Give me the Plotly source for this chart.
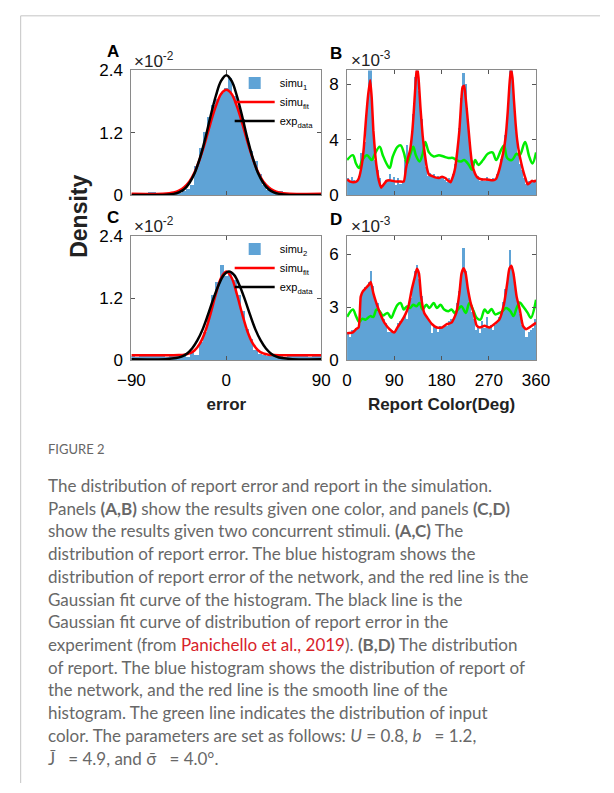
import plotly.graph_objects as go

W, H = 614, 793

# ---------------- data (display units: A,C in 1e-2; B,D in 1e-3) ----------------
err_bins = [-88, -84, -80, -76, -72, -68, -64, -60, -56, -52, -48, -44, -40, -36, -32, -28, -24, -20, -16, -12,
            -8, -4, 0, 4, 8, 12, 16, 20, 24, 28, 32, 36, 40, 44, 48, 52, 56, 60, 64, 68, 72, 76, 80, 84, 88]
histA = [0.0, 0.0, 0.01, 0.0, 0.06, 0.05, 0.0, 0.01, 0.0, 0.02, 0.02, 0.04, 0.08, 0.12, 0.2, 0.55, 0.9, 1.2, 1.5, 1.72,
         1.85, 1.95, 2.05, 2.25, 1.9, 1.7, 1.45, 1.1, 0.85, 0.65, 0.4, 0.2, 0.1, 0.06, 0.03, 0.07, 0.02, 0.01, 0.0, 0.0,
         0.0, 0.0, 0.01, 0.0, 0.0]
histC = [0.08, 0.06, 0.08, 0.07, 0.1, 0.08, 0.12, 0.07, 0.06, 0.1, 0.08, 0.07, 0.1, 0.05, 0.15, 0.1, 0.35, 0.55, 0.9, 1.25,
         1.5, 1.83, 1.62, 1.7, 1.55, 1.25, 0.95, 0.6, 0.4, 0.2, 0.12, 0.1, 0.07, 0.09, 0.06, 0.08, 0.05, 0.08, 0.07, 0.1,
         0.07, 0.08, 0.05, 0.12, 0.08]

gaussA_x = [-90, -60, -50, -45, -40, -35, -30, -25, -20, -15, -10, -5, 0, 5, 10, 15, 20, 25, 30, 35, 40, 45, 50, 60, 90]
A_exp = [0.01, 0.01, 0.03, 0.06, 0.12, 0.24, 0.43, 0.72, 1.09, 1.52, 1.91, 2.20, 2.31, 2.20, 1.91, 1.52, 1.09, 0.72,
         0.43, 0.24, 0.12, 0.06, 0.03, 0.01, 0.01]
A_fit = [0.03, 0.034, 0.056, 0.09, 0.16, 0.27, 0.45, 0.71, 1.03, 1.39, 1.71, 1.95, 2.03, 1.95, 1.71, 1.39, 1.03, 0.71,
         0.45, 0.27, 0.16, 0.09, 0.056, 0.034, 0.03]

C_exp_x = [-90, -57.5, -47.5, -42.5, -37.5, -32.5, -27.5, -22.5, -17.5, -12.5, -7.5, -2.5, 2.5, 7.5, 12.5, 17.5, 22.5,
           27.5, 32.5, 37.5, 42.5, 47.5, 52.5, 62.5, 90]
C_exp = [0.02, 0.024, 0.044, 0.073, 0.13, 0.23, 0.385, 0.60, 0.88, 1.18, 1.45, 1.65, 1.72, 1.65, 1.45, 1.18, 0.88, 0.60,
         0.385, 0.23, 0.13, 0.073, 0.044, 0.024, 0.02]
C_fit_x = [-90, -50, -45, -40, -35, -30, -25, -20, -15, -10, -5, 0, 5, 10, 15, 20, 25, 30, 35, 40, 45, 50, 90]
C_fit = [0.10, 0.10, 0.103, 0.11, 0.134, 0.196, 0.33, 0.56, 0.90, 1.28, 1.60, 1.72, 1.60, 1.28, 0.90, 0.56, 0.33, 0.196,
         0.134, 0.11, 0.103, 0.10, 0.10]

col_bins = [2, 6, 10, 14, 18, 22, 26, 30, 34, 38, 42, 46, 50, 54, 58, 62, 66, 70, 74, 78, 82, 86, 90, 94, 98, 102, 106,
            110, 114, 118, 122, 126, 130, 134, 138, 142, 146, 150, 154, 158, 162, 166, 170, 174, 178, 182, 186, 190,
            194, 198, 202, 206, 210, 214, 218, 222, 226, 230, 234, 238, 242, 246, 250, 254, 258, 262, 266, 270, 274,
            278, 282, 286, 290, 294, 298, 302, 306, 310, 314, 318, 322, 326, 330, 334, 338, 342, 346, 350, 354, 358]
histB = [1.2, 0.9, 1.3, 1.1, 1.0, 1.4, 3.0, 2.6, 3.8, 6.5, 9.5, 9.3, 5.0, 2.5, 1.8, 1.2, 0.5, 0.8, 1.1, 1.0, 1.5, 1.0,
         1.3, 0.7, 1.2, 0.8, 1.0, 2.5, 3.6, 3.0, 3.8, 5.8, 8.5, 9.5, 7.5, 5.5, 3.2, 2.0, 1.4, 1.6, 1.3, 1.5, 1.2, 1.4,
         1.2, 1.3, 1.1, 0.9, 1.2, 1.0, 1.5, 2.2, 3.0, 4.8, 7.0, 8.8, 8.0, 5.5, 3.5, 2.5, 1.8, 1.3, 1.4, 1.0, 1.2, 1.0,
         1.3, 1.1, 1.0, 1.2, 1.1, 1.5, 1.9, 2.6, 3.0, 4.3, 6.5, 9.2, 9.5, 7.0, 4.5, 3.0, 2.2, 1.8, 1.2, 0.8, 1.0, 0.9,
         1.1, 1.1]
histD = [1.5, 1.3, 1.7, 1.7, 1.8, 1.9, 3.6, 3.9, 4.1, 4.1, 4.4, 5.0, 4.2, 3.5, 3.2, 2.6, 2.5, 2.3, 2.1, 1.6, 1.6, 1.7,
         1.6, 1.7, 2.1, 2.2, 2.3, 2.6, 2.3, 3.0, 3.5, 4.3, 5.0, 5.35, 4.6, 3.6, 2.7, 2.5, 2.3, 2.2, 1.5, 2.0, 1.8, 1.6,
         1.9, 1.8, 2.0, 1.9, 2.2, 2.3, 2.3, 2.6, 3.2, 3.9, 4.8, 6.3, 5.0, 4.0, 3.2, 2.7, 2.3, 1.7, 1.9, 1.5, 2.2, 1.8,
         2.4, 1.8, 2.0, 1.7, 2.0, 2.2, 2.4, 2.7, 3.3, 4.0, 4.8, 6.2, 5.3, 4.8, 3.7, 3.0, 2.6, 2.0, 1.8, 1.3, 1.6, 1.7,
         1.8, 2.3]

B_red_x = [0, 6, 12, 18, 22, 28, 32, 36, 40, 44, 47, 50, 54, 57, 61, 65, 70, 75, 80, 86, 93, 100, 108, 112, 116, 120,
           124, 127, 130, 133, 136, 140, 144, 148, 152, 156, 162, 168, 175, 181, 187, 193, 197, 202, 206, 210, 214,
           217, 220, 223, 226, 229, 232, 235, 238, 241, 246, 250, 258, 266, 274, 280, 284, 288, 291, 294, 298, 302,
           306, 309, 312, 315, 318, 321, 324, 328, 332, 336, 340, 344, 348, 352, 356, 360]
B_red = [1.15, 1.0, 0.95, 1.0, 1.2, 2.2, 3.5, 5.5, 7.2, 8.3, 7.0, 4.7, 2.8, 1.85, 1.0, 0.56, 0.8, 1.05, 1.1, 1.05, 1.0,
         1.0, 1.0, 1.9, 2.7, 3.25, 4.5, 6.0, 7.8, 9.3, 8.5, 6.2, 4.3, 3.0, 2.0, 1.5, 1.4, 1.3, 1.25, 1.35, 1.25, 1.05,
         0.95, 1.4, 2.0, 3.2, 4.7, 6.5, 7.8, 7.9, 7.0, 5.8, 4.5, 3.25, 2.3, 1.85, 1.4, 1.25, 1.15, 1.15, 1.1, 1.1, 1.2,
         1.6, 2.0, 2.5, 3.2, 4.2, 6.0, 7.8, 9.1, 8.5, 6.8, 5.2, 4.0, 3.0, 2.3, 1.7, 1.2, 0.8, 0.9, 1.05, 1.0, 1.1]
B_grn_x = [0, 11, 17, 23, 29, 38, 47, 53, 62, 68, 75, 81, 87, 96, 102, 108, 114, 120, 126, 131, 138, 144, 149, 156,
           165, 175, 184, 193, 202, 208, 217, 223, 232, 238, 244, 250, 259, 268, 277, 284, 293, 299, 305, 314, 323,
           329, 339, 347, 353, 360]
B_grn = [2.55, 2.9, 2.3, 1.97, 2.55, 2.9, 2.55, 3.0, 3.5, 2.9, 2.3, 1.97, 2.8, 3.5, 3.6, 3.1, 2.3, 2.9, 3.5, 2.9, 2.45,
         3.0, 3.85, 3.1, 2.8, 2.9, 2.8, 2.7, 2.7, 2.55, 2.45, 2.55, 2.2, 1.85, 2.55, 2.2, 2.55, 3.0, 3.1, 2.55, 3.25,
         3.6, 2.7, 2.55, 3.0, 2.9, 3.85, 2.8, 2.3, 3.1]

D_red_x = [0, 11, 17, 22, 26, 30, 35, 41, 45, 50, 55, 59, 65, 71, 81, 90, 96, 102, 111, 117, 123, 129, 133, 137, 141,
           147, 153, 162, 171, 181, 190, 199, 208, 214, 218, 222, 226, 230, 235, 241, 247, 253, 262, 271, 280, 290,
           299, 305, 309, 313, 317, 323, 329, 335, 341, 347, 360]
D_red = [1.53, 1.58, 1.76, 1.86, 3.6, 3.9, 4.06, 4.25, 4.43, 3.8, 3.3, 2.96, 2.5, 2.13, 1.76, 1.58, 1.86, 2.13, 2.6,
         3.05, 3.97, 4.7, 5.17, 4.9, 3.6, 2.68, 2.4, 2.04, 1.86, 1.86, 2.04, 2.13, 2.68, 3.8, 4.9, 5.2, 4.9, 4.06, 3.3,
         2.68, 1.95, 1.86, 1.95, 1.86, 2.04, 2.3, 3.2, 4.34, 5.17, 5.35, 4.9, 3.6, 2.87, 1.95, 1.76, 1.86, 2.13]
D_grn_x = [0, 11, 17, 23, 29, 35, 44, 50, 56, 62, 68, 77, 84, 90, 96, 102, 108, 114, 120, 126, 132, 138, 144, 151, 157,
           165, 171, 178, 185, 193, 199, 205, 211, 218, 226, 233, 241, 247, 254, 262, 268, 275, 282, 290, 296, 303,
           311, 317, 323, 329, 335, 344, 350, 360]
D_grn = [2.46, 2.87, 2.5, 2.17, 2.35, 2.3, 2.5, 2.46, 2.87, 2.78, 2.54, 2.68, 2.4, 2.78, 3.14, 3.24, 2.87, 3.05, 2.96,
         3.14, 3.05, 3.24, 2.87, 3.14, 2.96, 3.24, 2.96, 3.14, 2.87, 2.78, 2.87, 2.68, 2.87, 3.05, 2.68, 3.24, 2.78, 2.4,
         2.3, 2.87, 2.68, 2.9, 2.6, 2.68, 2.78, 2.96, 2.78, 2.5, 2.96, 3.27, 3.05, 2.68, 2.4, 3.42]

caption_lines = [
    "The distribution of report error and report in the simulation.",
    "Panels <b>(A,B)</b> show the results given one color, and panels <b>(C,D)</b>",
    "show the results given two concurrent stimuli. <b>(A,C)</b> The",
    "distribution of report error. The blue histogram shows the",
    "distribution of report error of the network, and the red line is the",
    "Gaussian fit curve of the histogram. The black line is the",
    "Gaussian fit curve of distribution of report error in the",
    "experiment (from <span style='color:#d8232a'>Panichello et al., 2019</span>). <b>(B,D)</b> The distribution",
    "of report. The blue histogram shows the distribution of report of",
    "the network, and the red line is the smooth line of the",
    "histogram. The green line indicates the distribution of input",
    "color. The parameters are set as follows: <i>U</i> = 0.8, <i>b</i>\u00a0\u00a0 = 1.2,",
    "J\u0304\u00a0\u00a0 = 4.9, and σ\u0304\u00a0\u00a0 = 4.0°.",
]

# ---------------- styling ----------------
BLUE = "rgb(95,163,214)"
RED = "#ff0000"
GREEN = "#00ee00"
AXF = "Liberation Sans, Arial, sans-serif"
CAPF = "Lato, Open Sans, sans-serif"


def px(x):
    return x / W


def py(y):
    return 1 - y / H


fig = go.Figure()

# Panel A
fig.add_trace(go.Bar(x=err_bins, y=histA, width=4, marker=dict(color=BLUE, line=dict(width=0)),
                     name="simu<sub>1</sub>", xaxis="x", yaxis="y", legend="legend"))
fig.add_trace(go.Scatter(x=gaussA_x, y=A_fit, mode="lines", line=dict(color=RED, width=2.5, shape="spline"),
                         name="simu<sub>fit</sub>", xaxis="x", yaxis="y", legend="legend"))
fig.add_trace(go.Scatter(x=gaussA_x, y=A_exp, mode="lines", line=dict(color="black", width=2.5, shape="spline"),
                         name="exp<sub>data</sub>", xaxis="x", yaxis="y", legend="legend"))
# Panel B
fig.add_trace(go.Bar(x=col_bins, y=histB, width=4, marker=dict(color=BLUE, line=dict(width=0)),
                     showlegend=False, xaxis="x2", yaxis="y2"))
fig.add_trace(go.Scatter(x=B_grn_x, y=B_grn, mode="lines", line=dict(color=GREEN, width=2.5, shape="spline", smoothing=1.0),
                         showlegend=False, xaxis="x2", yaxis="y2"))
fig.add_trace(go.Scatter(x=B_red_x, y=B_red, mode="lines", line=dict(color=RED, width=2.5, shape="spline", smoothing=0.5),
                         showlegend=False, xaxis="x2", yaxis="y2"))
# Panel C
fig.add_trace(go.Bar(x=err_bins, y=histC, width=4, marker=dict(color=BLUE, line=dict(width=0)),
                     name="simu<sub>2</sub>", xaxis="x3", yaxis="y3", legend="legend2"))
fig.add_trace(go.Scatter(x=C_fit_x, y=C_fit, mode="lines", line=dict(color=RED, width=2.5, shape="spline"),
                         name="simu<sub>fit</sub>", xaxis="x3", yaxis="y3", legend="legend2"))
fig.add_trace(go.Scatter(x=C_exp_x, y=C_exp, mode="lines", line=dict(color="black", width=2.5, shape="spline"),
                         name="exp<sub>data</sub>", xaxis="x3", yaxis="y3", legend="legend2"))
# Panel D
fig.add_trace(go.Bar(x=col_bins, y=histD, width=4, marker=dict(color=BLUE, line=dict(width=0)),
                     showlegend=False, xaxis="x4", yaxis="y4"))
fig.add_trace(go.Scatter(x=D_grn_x, y=D_grn, mode="lines", line=dict(color=GREEN, width=2.5, shape="spline", smoothing=1.0),
                         showlegend=False, xaxis="x4", yaxis="y4"))
fig.add_trace(go.Scatter(x=D_red_x, y=D_red, mode="lines", line=dict(color=RED, width=2.5, shape="spline", smoothing=0.5),
                         showlegend=False, xaxis="x4", yaxis="y4"))

axis_common = dict(showline=True, linecolor="#8a8a8a", linewidth=1, mirror="ticks", ticks="inside", ticklen=4,
                   tickcolor="#555555", showgrid=False, zeroline=False,
                   tickfont=dict(family=AXF, size=17, color="black"))

L_AC, R_AC = px(123), px(322)
L_BD, R_BD = px(349), px(547)
T_AB, B_AB = py(63), py(191)
T_CD, B_CD = py(233), py(360)

leg_common = dict(xanchor="left", yanchor="top", bgcolor="rgba(0,0,0,0)",
                  font=dict(family=AXF, size=11, color="black"), itemwidth=40, tracegroupgap=0,
                  traceorder="normal")

fig.update_layout(
    width=W, height=H, margin=dict(l=0, r=0, t=0, b=0),
    paper_bgcolor="white", plot_bgcolor="white",
    bargap=0, barmode="overlay",
    xaxis=dict(domain=[L_AC, R_AC], range=[-90, 90], tickvals=[-90, 0, 90], showticklabels=False,
               anchor="y", **axis_common),
    yaxis=dict(domain=[B_AB, T_AB], range=[0, 2.4], tickvals=[0, 1.2, 2.4], ticktext=["0", "1.2", "2.4"],
               anchor="x", ticklabelstandoff=4, **axis_common),
    xaxis2=dict(domain=[L_BD, R_BD], range=[0, 360], tickvals=[0, 90, 180, 270, 360], showticklabels=False,
                anchor="y2", **axis_common),
    yaxis2=dict(domain=[B_AB, T_AB], range=[0, 9], tickvals=[0, 4, 8], anchor="x2", ticklabelstandoff=4,
                **axis_common),
    xaxis3=dict(domain=[L_AC, R_AC], range=[-90, 90], tickvals=[-90, 0, 90], anchor="y3",
                title=dict(text="<b>error</b>", font=dict(family=AXF, size=17, color="#222"), standoff=9),
                ticklabelstandoff=4, **axis_common),
    yaxis3=dict(domain=[B_CD, T_CD], range=[0, 2.4], tickvals=[0, 1.2, 2.4], ticktext=["0", "1.2", "2.4"],
                anchor="x3", ticklabelstandoff=4, **axis_common),
    xaxis4=dict(domain=[L_BD, R_BD], range=[0, 360], tickvals=[0, 90, 180, 270, 360], anchor="y4",
                title=dict(text="<b>Report Color(Deg)</b>", font=dict(family=AXF, size=17, color="#222"), standoff=9),
                ticklabelstandoff=4, **axis_common),
    yaxis4=dict(domain=[B_CD, T_CD], range=[0, 7], tickvals=[0, 3, 6], anchor="x4", ticklabelstandoff=4,
                **axis_common),
    legend=dict(x=px(226), y=py(61), **leg_common),
    legend2=dict(x=px(226), y=py(231), **leg_common),
    font=dict(family=AXF),
)

ann = []
# panel letters and exponent labels
for letter, lx, ly in [("A", 104, 44), ("B", 337, 46), ("C", 104, 214), ("D", 337, 216)]:
    ann.append(dict(text=f"<b>{letter}</b>", x=px(lx), y=py(ly), xref="paper", yref="paper", showarrow=False,
                    xanchor="center", yanchor="middle", font=dict(family=AXF, size=17, color="black")))
for txt, lx, ly in [("×10<sup>-2</sup>", 124, 52), ("×10<sup>-3</sup>", 351, 51), ("×10<sup>-2</sup>", 124, 221),
                    ("×10<sup>-3</sup>", 351, 221)]:
    ann.append(dict(text=txt, x=px(lx), y=py(ly), xref="paper", yref="paper", showarrow=False,
                    xanchor="left", yanchor="middle", font=dict(family=AXF, size=17, color="#222")))
ann.append(dict(text="<b>Density</b>", x=px(68), y=py(212), xref="paper", yref="paper", showarrow=False,
                textangle=-90, xanchor="center", yanchor="middle", font=dict(family=AXF, size=23, color="#222")))

# caption
ann.append(dict(text="FIGURE 2", x=px(34), y=py(451), xref="paper", yref="paper", showarrow=False,
                xanchor="left", yanchor="middle", font=dict(family=CAPF, size=13, color="#666666")))
for i, line in enumerate(caption_lines):
    ann.append(dict(text=line, x=px(34), y=py(488 + 23.3 * i), xref="paper", yref="paper", showarrow=False,
                    xanchor="left", yanchor="middle", align="left",
                    font=dict(family=CAPF, size=17, color="#686868")))
fig.update_layout(annotations=ann)

# card border (top and left edges)
fig.add_shape(type="line", xref="paper", yref="paper", x0=px(7), x1=1, y0=py(7), y1=py(7),
              line=dict(color="#c4c4c4", width=1))
fig.add_shape(type="line", xref="paper", yref="paper", x0=px(7), x1=px(7), y0=py(7), y1=0,
              line=dict(color="#c4c4c4", width=1))

fig.write_html("out.html")
